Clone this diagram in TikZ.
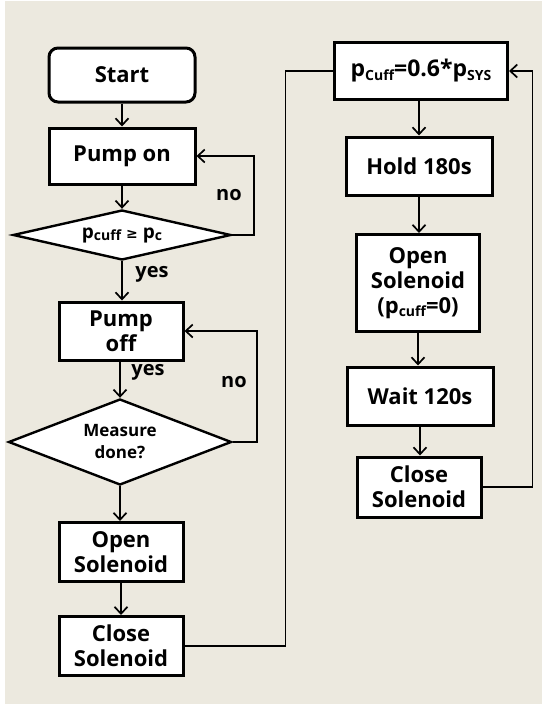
\documentclass[tikz,border=0pt]{standalone}
\usepackage{fontspec}
\setmainfont{Open Sans}
\newfontfamily\symfont{DejaVu Sans}
\usetikzlibrary{shapes.geometric,arrows.meta}
\definecolor{bgc}{HTML}{ECE9DF}
\tikzset{
  box/.style={draw=black,fill=white,line width=3pt,inner sep=0pt,align=center,font=\bfseries\fontsize{22}{25}\selectfont},
  dia/.style={draw=black,fill=white,line width=2.4pt,diamond,inner sep=0pt,align=center},
  conn/.style={line width=1.7pt,-{Straight Barb[length=7pt,width=13pt,line width=1.7pt]}},
  plain/.style={line width=1.7pt},
  lbl/.style={font=\bfseries\fontsize{20}{22}\selectfont,inner sep=0pt}
}
\newcommand{\subs}[1]{\raisebox{-0.15em}{\fontsize{14}{15}\selectfont #1}}
\begin{document}
\begin{tikzpicture}[x=1pt,y=-1pt]
\useasboundingbox (0,0) rectangle (542,704);
\fill[white] (0,0) rectangle (542,704);
\fill[bgc] (5,1) rectangle (542,704);
% left column
\node[box,rounded corners=9pt,minimum width=146pt,minimum height=54pt] (start) at (122,75) {Start};
\node[box,minimum width=146pt,minimum height=56pt] (pon) at (122,156) {Pump on};
\node[dia,minimum width=218pt,minimum height=50pt,aspect=4.36,font=\bfseries\fontsize{19}{21}\selectfont] (d1) at (122,235) {\raisebox{-3pt}{p\subs{cuff} {\symfont\fontsize{14}{14}\selectfont≥} p\subs{c}}};
\node[box,minimum width=124pt,minimum height=58pt] (poff) at (121,331) {Pump\\off};
\node[dia,minimum width=223pt,minimum height=86pt,aspect=2.6,font=\bfseries\fontsize{17}{22}\selectfont] (d2) at (120,442) {Measure\\done?};
\node[box,minimum width=124pt,minimum height=59pt] (os1) at (121,552) {Open\\Solenoid};
\node[box,minimum width=124pt,minimum height=59pt] (cs1) at (121,646) {Close\\Solenoid};
% right column
\node[box,minimum width=173pt,minimum height=57pt,font=\bfseries\fontsize{23}{26}\selectfont] (pc) at (421,71) {p\subs{Cuff}=0.6*p\subs{SYS}};
\node[box,minimum width=146pt,minimum height=58pt] (hold) at (419,166) {Hold 180s};
\node[box,minimum width=123pt,minimum height=97pt] (os2) at (418,283) {Open\\Solenoid\\(p\subs{cuff}=0)};
\node[box,minimum width=146pt,minimum height=58pt] (wait) at (420,396) {Wait 120s};
\node[box,minimum width=124pt,minimum height=60pt] (cs2) at (419,487) {Close\\Solenoid};
% connectors
\draw[conn] (start) -- (pon);
\draw[conn] (pon) -- (d1);
\draw[conn] (d1) -- (poff.north -| d1);
\draw[conn] (d1.east) -- ++(22,0) |- (pon.east);
\draw[conn] (poff.south -| d2) -- (d2);
\draw[conn] (d2.east) -- ++(24,0) |- (poff.east);
\draw[conn] (d2) -- (os1.north -| d2);
\draw[conn] (os1) -- (cs1);
\draw[plain] (cs1.east) -- ++(101,0) |- (pc.west);
\draw[conn] (pc.south -| hold) -- (hold);
\draw[conn] (hold) -- (os2.north -| hold);
\draw[conn] (os2) -- (wait.north -| os2);
\draw[conn] (wait) -- (cs2.north -| wait);
\draw[conn] (cs2.east) -- ++(50,0) |- (pc.east);
% labels
\node[lbl] at (229,195) {no};
\node[lbl] at (152,274) {yes};
\node[lbl] at (148,372) {yes};
\node[lbl] at (234,382) {no};
\end{tikzpicture}
\end{document}
